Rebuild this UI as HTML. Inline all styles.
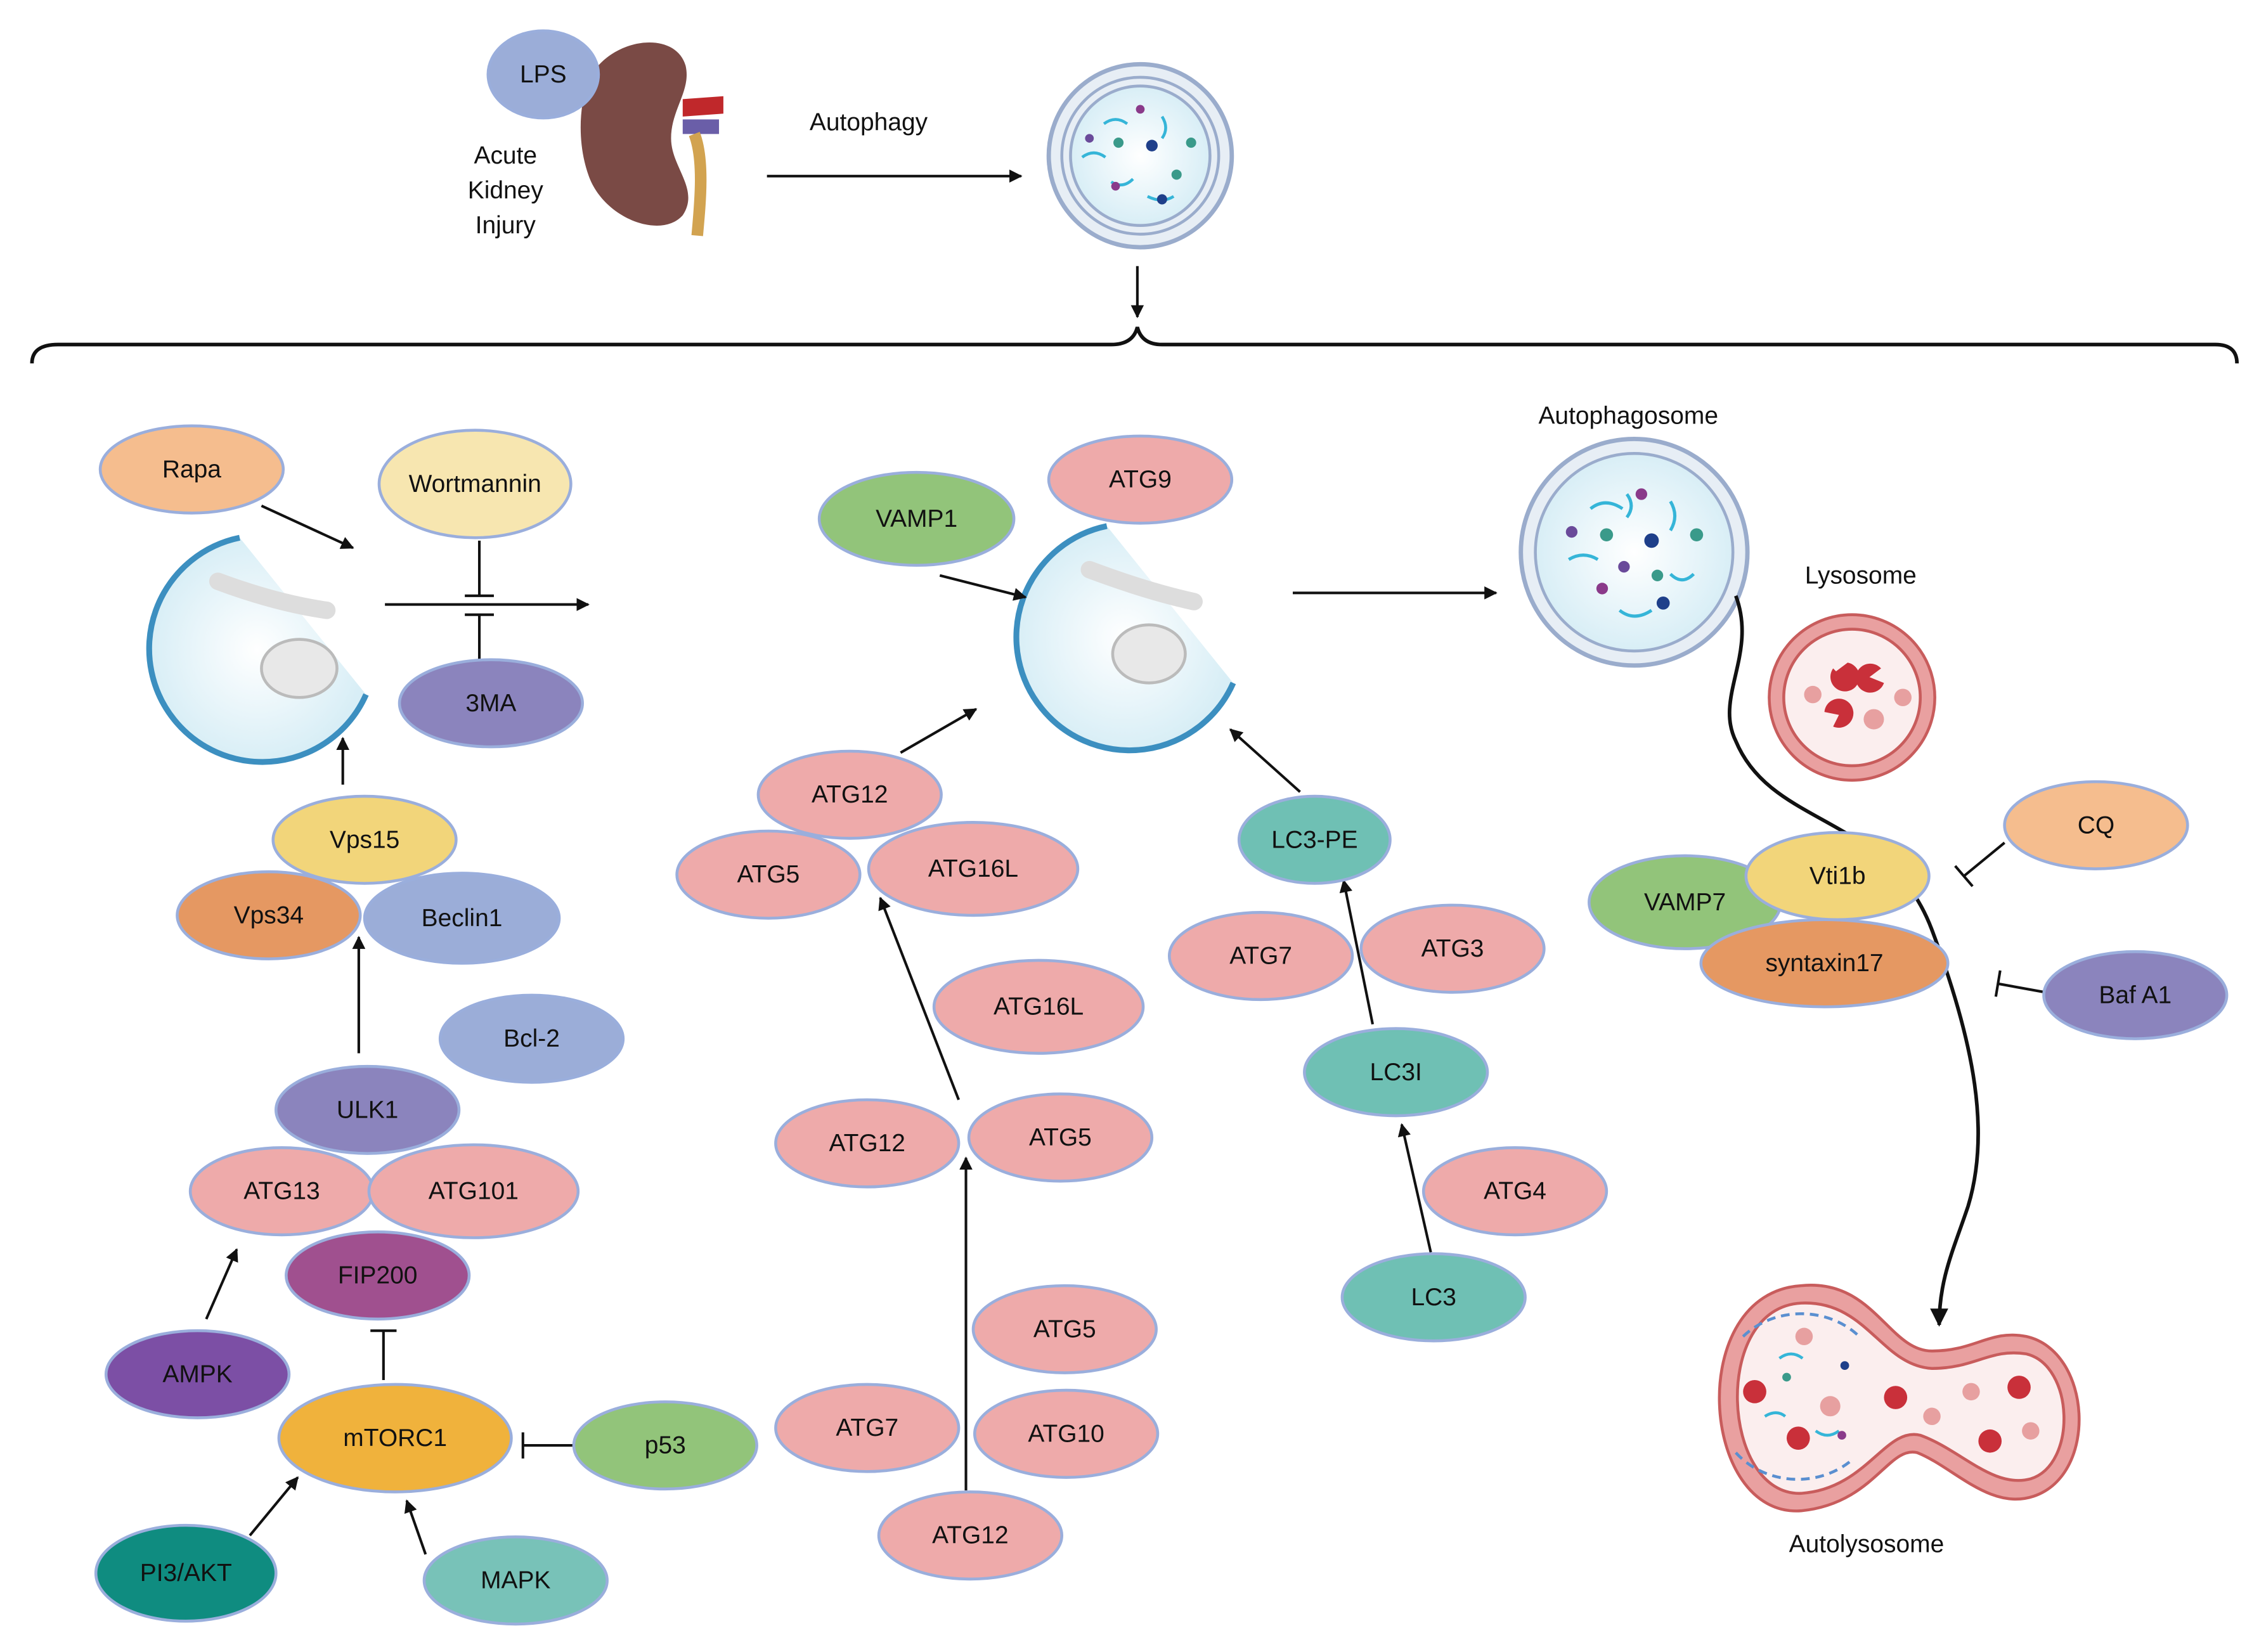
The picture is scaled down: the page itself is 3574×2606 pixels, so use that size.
<!DOCTYPE html>
<html><head><meta charset="utf-8"><style>
html,body{margin:0;padding:0;background:#fff;}
svg{display:block;}
text{font-family:"Liberation Sans",sans-serif;}
</style></head><body>
<svg width="3574" height="2606" viewBox="0 0 1560 1137" xmlns="http://www.w3.org/2000/svg">
<defs>
<marker id="ah" viewBox="0 0 10 10" refX="9" refY="5" markerWidth="5" markerHeight="5" orient="auto"><path d="M0,0 L10,5 L0,10 z" fill="#111"/></marker>
<radialGradient id="cell" cx="50%" cy="50%" r="50%"><stop offset="0" stop-color="#fff"/><stop offset="1" stop-color="#d8eef6"/></radialGradient>
</defs>
<style>
.e{stroke:#9aaedc;stroke-width:2;}
.t{font-size:17px;fill:#111;text-anchor:middle;dominant-baseline:central;}
.l{stroke:#111;stroke-width:1.8;fill:none;}
</style>

<!-- top section -->
<path d="M405,55 C420,25 465,20 472,45 C476,62 462,75 462,95 C462,115 482,130 470,148 C455,165 415,150 405,120 C398,100 398,75 405,55 z" fill="#7a4a45"/>
<path d="M470,68 L498,66 L498,78 L470,80 z" fill="#c0282b"/>
<path d="M470,82 L495,82 L495,92 L470,92 z" fill="#6a5ea8"/>
<path d="M478,92 C485,110 482,140 480,162" stroke="#d2a350" stroke-width="8" fill="none"/>
<ellipse cx="374" cy="51" rx="38" ry="30" fill="#9badd8" class="e"/><text x="374" y="51" class="t" font-size="19">LPS</text>
<text x="348" y="107" class="t" font-size="19">Acute</text>
<text x="348" y="131" class="t" font-size="19">Kidney</text>
<text x="348" y="155" class="t" font-size="19">Injury</text>
<text x="598" y="84" class="t" font-size="19">Autophagy</text>
<line x1="528" y1="121" x2="703" y2="121" class="l" marker-end="url(#ah)"/>
<circle cx="785" cy="107" r="63" fill="#e7eef5" stroke="#9aaccc" stroke-width="3"/>
<circle cx="785" cy="107" r="54" fill="none" stroke="#9aaccc" stroke-width="2"/>
<circle cx="785" cy="107" r="48" fill="url(#cell)" stroke="#9aaccc" stroke-width="2"/>
<g stroke="#35b5d8" stroke-width="2" fill="none"><path d="M760,85 q8,-6 16,0"/><path d="M800,80 q5,8 0,15"/><path d="M765,125 q8,5 15,-2"/><path d="M790,135 q10,5 18,0"/><path d="M745,108 q8,-6 16,0"/></g>
<g><circle cx="793" cy="100" r="4" fill="#1e3f8a"/><circle cx="770" cy="98" r="3.5" fill="#3a9a8a"/><circle cx="750" cy="95" r="3" fill="#6a4a9a"/><circle cx="820" cy="98" r="3.5" fill="#3a9a8a"/><circle cx="800" cy="137" r="3.5" fill="#1e3f8a"/><circle cx="768" cy="128" r="3" fill="#8a3a8a"/><circle cx="785" cy="75" r="3" fill="#8a3a8a"/><circle cx="810" cy="120" r="3.5" fill="#3a9a8a"/></g>
<line x1="783" y1="183" x2="783" y2="218" class="l" marker-end="url(#ah)"/>
<path d="M22,250 Q22,237 40,237 L765,237 Q780,237 783,225 Q786,237 800,237 L1525,237 Q1540,237 1540,250" stroke="#111" stroke-width="2.5" fill="none"/>

<!-- left phagophore -->
<g>
<path d="M165,370 A78,78 0 1 0 252,478" fill="url(#cell)" stroke="#3c8fc0" stroke-width="4"/>
<path d="M150,400 q40,15 75,20" stroke="#ddd" stroke-width="12" fill="none" stroke-linecap="round"/>
<ellipse cx="206" cy="460" rx="26" ry="20" fill="#e8e8e8" stroke="#bbb" stroke-width="2"/>
</g>
<line x1="180" y1="348" x2="243" y2="377" class="l" marker-end="url(#ah)"/>
<line x1="265" y1="416" x2="405" y2="416" class="l" marker-end="url(#ah)"/>
<line x1="330" y1="372" x2="330" y2="410" class="l"/><line x1="320" y1="410" x2="340" y2="410" class="l"/>
<line x1="330" y1="456" x2="330" y2="423" class="l"/><line x1="320" y1="423" x2="340" y2="423" class="l"/>
<line x1="236" y1="540" x2="236" y2="508" class="l" marker-end="url(#ah)"/>
<line x1="247" y1="725" x2="247" y2="645" class="l" marker-end="url(#ah)"/>
<line x1="142" y1="908" x2="163" y2="860" class="l" marker-end="url(#ah)"/>
<line x1="264" y1="950" x2="264" y2="916" class="l"/><line x1="255" y1="916" x2="273" y2="916" class="l"/>
<line x1="395" y1="995" x2="360" y2="995" class="l"/><line x1="360" y1="986" x2="360" y2="1004" class="l"/>
<line x1="172" y1="1057" x2="205" y2="1017" class="l" marker-end="url(#ah)"/>
<line x1="293" y1="1070" x2="280" y2="1033" class="l" marker-end="url(#ah)"/>

<ellipse cx="132" cy="323" rx="63" ry="30" fill="#f5bd8e" class="e"/><text x="132" y="323" class="t">Rapa</text>
<ellipse cx="327" cy="333" rx="66" ry="37" fill="#f7e6b0" class="e"/><text x="327" y="333" class="t">Wortmannin</text>
<ellipse cx="338" cy="484" rx="63" ry="30" fill="#8b84bd" class="e"/><text x="338" y="484" class="t">3MA</text>
<ellipse cx="251" cy="578" rx="63" ry="30" fill="#f2d57a" class="e"/><text x="251" y="578" class="t">Vps15</text>
<ellipse cx="185" cy="630" rx="63" ry="30" fill="#e59862" class="e"/><text x="185" y="630" class="t">Vps34</text>
<ellipse cx="318" cy="632" rx="67" ry="31" fill="#9badd8" class="e"/><text x="318" y="632" class="t">Beclin1</text>
<ellipse cx="366" cy="715" rx="63" ry="30" fill="#9badd8" class="e"/><text x="366" y="715" class="t">Bcl-2</text>
<ellipse cx="253" cy="764" rx="63" ry="30" fill="#8b84bd" class="e"/><text x="253" y="764" class="t">ULK1</text>
<ellipse cx="194" cy="820" rx="63" ry="30" fill="#eeaaaa" class="e"/><text x="194" y="820" class="t">ATG13</text>
<ellipse cx="326" cy="820" rx="72" ry="32" fill="#eeaaaa" class="e"/><text x="326" y="820" class="t">ATG101</text>
<ellipse cx="260" cy="878" rx="63" ry="30" fill="#a0508f" class="e"/><text x="260" y="878" class="t">FIP200</text>
<ellipse cx="136" cy="946" rx="63" ry="30" fill="#7c4fa5" class="e"/><text x="136" y="946" class="t">AMPK</text>
<ellipse cx="272" cy="990" rx="80" ry="37" fill="#f0b23c" class="e"/><text x="272" y="990" class="t">mTORC1</text>
<ellipse cx="458" cy="995" rx="63" ry="30" fill="#92c47a" class="e"/><text x="458" y="995" class="t">p53</text>
<ellipse cx="128" cy="1083" rx="62" ry="33" fill="#0f8c80" class="e"/><text x="128" y="1083" class="t">PI3/AKT</text>
<ellipse cx="355" cy="1088" rx="63" ry="30" fill="#78c2b8" class="e"/><text x="355" y="1088" class="t">MAPK</text>

<!-- middle phagophore -->
<path d="M762,362 A78,78 0 1 0 849,470" fill="url(#cell)" stroke="#3c8fc0" stroke-width="4"/>
<path d="M750,392 q40,15 72,22" stroke="#ddd" stroke-width="12" fill="none" stroke-linecap="round"/>
<ellipse cx="791" cy="450" rx="25" ry="20" fill="#e8e8e8" stroke="#bbb" stroke-width="2"/>
<line x1="647" y1="396" x2="706" y2="411" class="l" marker-end="url(#ah)"/>
<line x1="620" y1="518" x2="672" y2="488" class="l" marker-end="url(#ah)"/>
<line x1="660" y1="757" x2="606" y2="618" class="l" marker-end="url(#ah)"/>
<line x1="665" y1="1026" x2="665" y2="797" class="l" marker-end="url(#ah)"/>
<line x1="895" y1="545" x2="847" y2="502" class="l" marker-end="url(#ah)"/>
<line x1="945" y1="705" x2="925" y2="606" class="l" marker-end="url(#ah)"/>
<line x1="985" y1="862" x2="965" y2="774" class="l" marker-end="url(#ah)"/>
<line x1="890" y1="408" x2="1030" y2="408" class="l" marker-end="url(#ah)"/>

<ellipse cx="631" cy="357" rx="67" ry="32" fill="#92c47a" class="e"/><text x="631" y="357" class="t">VAMP1</text>
<ellipse cx="785" cy="330" rx="63" ry="30" fill="#eeaaaa" class="e"/><text x="785" y="330" class="t">ATG9</text>
<ellipse cx="585" cy="547" rx="63" ry="30" fill="#eeaaaa" class="e"/><text x="585" y="547" class="t">ATG12</text>
<ellipse cx="529" cy="602" rx="63" ry="30" fill="#eeaaaa" class="e"/><text x="529" y="602" class="t">ATG5</text>
<ellipse cx="670" cy="598" rx="72" ry="32" fill="#eeaaaa" class="e"/><text x="670" y="598" class="t">ATG16L</text>
<ellipse cx="715" cy="693" rx="72" ry="32" fill="#eeaaaa" class="e"/><text x="715" y="693" class="t">ATG16L</text>
<ellipse cx="597" cy="787" rx="63" ry="30" fill="#eeaaaa" class="e"/><text x="597" y="787" class="t">ATG12</text>
<ellipse cx="730" cy="783" rx="63" ry="30" fill="#eeaaaa" class="e"/><text x="730" y="783" class="t">ATG5</text>
<ellipse cx="733" cy="915" rx="63" ry="30" fill="#eeaaaa" class="e"/><text x="733" y="915" class="t">ATG5</text>
<ellipse cx="597" cy="983" rx="63" ry="30" fill="#eeaaaa" class="e"/><text x="597" y="983" class="t">ATG7</text>
<ellipse cx="734" cy="987" rx="63" ry="30" fill="#eeaaaa" class="e"/><text x="734" y="987" class="t">ATG10</text>
<ellipse cx="668" cy="1057" rx="63" ry="30" fill="#eeaaaa" class="e"/><text x="668" y="1057" class="t">ATG12</text>
<ellipse cx="905" cy="578" rx="52" ry="30" fill="#6fc0b4" class="e"/><text x="905" y="578" class="t">LC3-PE</text>
<ellipse cx="868" cy="658" rx="63" ry="30" fill="#eeaaaa" class="e"/><text x="868" y="658" class="t">ATG7</text>
<ellipse cx="1000" cy="653" rx="63" ry="30" fill="#eeaaaa" class="e"/><text x="1000" y="653" class="t">ATG3</text>
<ellipse cx="961" cy="738" rx="63" ry="30" fill="#6fc0b4" class="e"/><text x="961" y="738" class="t">LC3I</text>
<ellipse cx="1043" cy="820" rx="63" ry="30" fill="#eeaaaa" class="e"/><text x="1043" y="820" class="t">ATG4</text>
<ellipse cx="987" cy="893" rx="63" ry="30" fill="#6fc0b4" class="e"/><text x="987" y="893" class="t">LC3</text>

<!-- right -->
<text x="1121" y="286" class="t" font-size="21">Autophagosome</text>
<circle cx="1125" cy="380" r="78" fill="#e7eef5" stroke="#9aaccc" stroke-width="3"/>
<circle cx="1125" cy="380" r="68" fill="url(#cell)" stroke="#9aaccc" stroke-width="2"/>
<g stroke="#35b5d8" stroke-width="2.2" fill="none"><path d="M1095,350 q10,-8 22,0"/><path d="M1150,345 q6,10 0,20"/><path d="M1080,385 q10,-6 20,0"/><path d="M1115,420 q10,8 22,0"/><path d="M1150,395 q8,8 16,0"/><path d="M1120,340 q6,8 0,16"/></g>
<g><circle cx="1137" cy="372" r="5" fill="#1e3f8a"/><circle cx="1106" cy="368" r="4.5" fill="#3a9a8a"/><circle cx="1082" cy="366" r="4" fill="#6a4a9a"/><circle cx="1168" cy="368" r="4.5" fill="#3a9a8a"/><circle cx="1145" cy="415" r="4.5" fill="#1e3f8a"/><circle cx="1103" cy="405" r="4" fill="#8a3a8a"/><circle cx="1130" cy="340" r="4" fill="#8a3a8a"/><circle cx="1141" cy="396" r="4" fill="#3a9a8a"/><circle cx="1118" cy="390" r="4" fill="#6a4a9a"/></g>
<text x="1281" y="396" class="t" font-size="21">Lysosome</text>
<circle cx="1275" cy="480" r="57" fill="#e9a0a0" stroke="#c85c5c" stroke-width="2"/>
<circle cx="1275" cy="480" r="47" fill="#fbeeee" stroke="#c85c5c" stroke-width="2"/>
<g fill="#c9303a"><path d="M1262,460 a10,10 0 1 0 10,-4 l-8,6 z"/><path d="M1295,460 a10,10 0 1 0 2,10 l-10,-4 z"/><path d="M1262,500 a10,10 0 1 0 -6,-10 l10,2 z"/></g>
<g fill="#e7a0a0"><circle cx="1290" cy="495" r="7"/><circle cx="1248" cy="478" r="6"/><circle cx="1310" cy="480" r="6"/></g>
<path d="M1195,410 C1210,450 1180,480 1195,510 C1220,570 1300,560 1330,640 C1360,720 1370,780 1355,830 C1345,860 1335,880 1335,912" stroke="#111" stroke-width="2.5" fill="none" marker-end="url(#ah)"/>
<line x1="1380" y1="580" x2="1352" y2="603" class="l"/><line x1="1346" y1="596" x2="1358" y2="610" class="l"/>
<line x1="1408" y1="683" x2="1375" y2="677" class="l"/><line x1="1377" y1="668" x2="1374" y2="686" class="l"/>

<ellipse cx="1443" cy="568" rx="63" ry="30" fill="#f5bd8e" class="e"/><text x="1443" y="568" class="t">CQ</text>
<ellipse cx="1160" cy="621" rx="66" ry="32" fill="#92c47a" class="e"/><text x="1160" y="621" class="t">VAMP7</text>
<ellipse cx="1265" cy="603" rx="63" ry="30" fill="#f2d57a" class="e"/><text x="1265" y="603" class="t">Vti1b</text>
<ellipse cx="1256" cy="663" rx="85" ry="30" fill="#e59862" class="e"/><text x="1256" y="663" class="t">syntaxin17</text>
<ellipse cx="1470" cy="685" rx="63" ry="30" fill="#8b84bd" class="e"/><text x="1470" y="685" class="t">Baf A1</text>

<!-- autolysosome -->
<path d="M1240,885 C1290,880 1300,930 1330,930 C1360,930 1370,915 1395,920 C1440,930 1445,1015 1400,1030 C1370,1040 1345,1010 1320,1000 C1300,995 1290,1035 1240,1040 C1170,1045 1160,890 1240,885 z" fill="#e9a0a0" stroke="#c85c5c" stroke-width="2"/>
<path d="M1240,897 C1285,895 1295,940 1330,942 C1360,942 1370,928 1395,932 C1428,940 1430,1008 1398,1018 C1372,1025 1350,998 1322,988 C1298,982 1285,1025 1240,1028 C1185,1030 1178,900 1240,897 z" fill="#fbeeee" stroke="#c85c5c" stroke-width="2"/>
<g stroke="#5a8fd0" stroke-width="2" stroke-dasharray="6,4" fill="none"><path d="M1200,920 a55,50 0 0 1 80,0"/><path d="M1195,1000 a55,50 0 0 0 80,5"/></g>
<g stroke="#35b5d8" stroke-width="2" fill="none"><path d="M1225,935 q8,-6 16,0"/><path d="M1250,985 q8,6 16,0"/><path d="M1215,975 q8,-5 14,0"/></g>
<g fill="#c9303a"><circle cx="1208" cy="958" r="8"/><circle cx="1238" cy="990" r="8"/><circle cx="1305" cy="962" r="8"/><circle cx="1390" cy="955" r="8"/><circle cx="1370" cy="992" r="8"/></g>
<g fill="#e7a0a0"><circle cx="1260" cy="968" r="7"/><circle cx="1242" cy="920" r="6"/><circle cx="1330" cy="975" r="6"/><circle cx="1357" cy="958" r="6"/><circle cx="1398" cy="985" r="6"/></g>
<g><circle cx="1230" cy="948" r="3" fill="#3a9a8a"/><circle cx="1270" cy="940" r="3" fill="#1e3f8a"/><circle cx="1268" cy="988" r="3" fill="#8a3a8a"/></g>
<text x="1285" y="1063" class="t" font-size="21">Autolysosome</text>
</svg>
</body></html>
